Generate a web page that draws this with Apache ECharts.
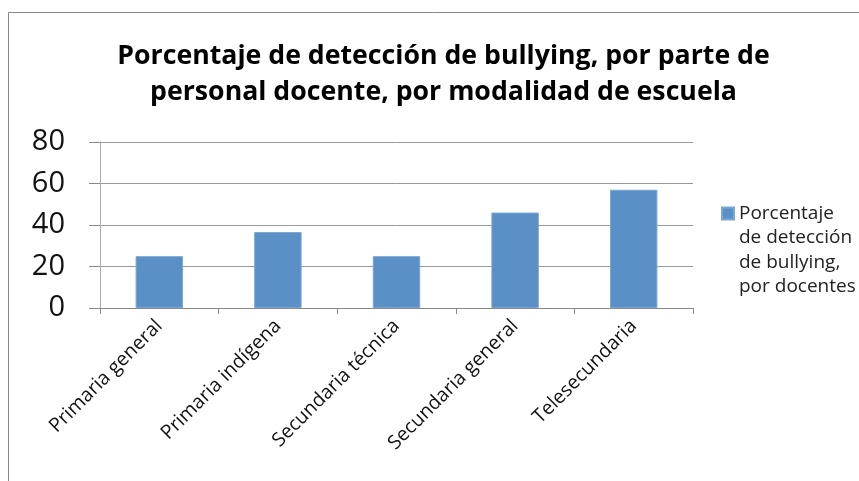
<!DOCTYPE html>
<html style="height: 100%">
<head>
<meta charset="utf-8" />
<title>Detección de bullying</title>
<script type="text/javascript" src="https://cdn.jsdelivr.net/npm/echarts@6/dist/echarts.min.js"></script>
</head>
<body style="height: 100%; margin: 0; background: #fff;">
<div id="container" style="width: 859px; height: 481px;"></div>
<script type="text/javascript">
var categories = ['Primaria general', 'Primaria indígena', 'Secundaria técnica', 'Secundaria general', 'Telesecundaria'];
var values = [25, 36.6, 25, 46, 57];
var seriesName = 'Porcentaje\nde detección\nde bullying,\npor docentes';
var titleText = 'Porcentaje de detección de bullying, por parte de\npersonal docente, por modalidad de escuela';

var myChart = echarts.init(document.getElementById('container'));
var option = {
    backgroundColor: '#fff',
    animation: false,
    title: {
        text: titleText,
        left: 438.5,
        textAlign: 'center',
        top: 33,
        textStyle: {
            fontFamily: 'Open Sans',
            fontWeight: 'bold',
            fontSize: 26.7,
            lineHeight: 36,
            color: '#000'
        }
    },
    legend: {
        data: [seriesName],
        orient: 'vertical',
        left: 716,
        top: 196,
        itemWidth: 12,
        itemHeight: 96,
        itemGap: 4,
        // square at the top of a tall icon box, so it sits beside the first text line
        icon: 'path://M0,0.45L1,0.45L1,1.45L0,1.45Z M0,0 M0,8',
        symbolKeepAspect: true,
        textStyle: {
            fontFamily: 'Open Sans',
            fontSize: 19,
            lineHeight: 24.5,
            color: '#222'
        }
    },
    graphic: [{
        // frame of the chart area (top and left edges only are visible)
        type: 'polyline',
        shape: { points: [[8.5, 481], [8.5, 12.5], [859, 12.5]] },
        style: { fill: 'none', stroke: '#888', lineWidth: 1 },
        silent: true
    }],
    grid: {
        left: 100,
        right: 166,
        top: 142,
        bottom: 173
    },
    xAxis: {
        type: 'category',
        data: categories,
        axisLine: { lineStyle: { color: '#888' } },
        axisTick: { show: true, length: 6, lineStyle: { color: '#888' } },
        axisLabel: {
            rotate: 45,
            interval: 0,
            margin: 15,
            fontFamily: 'Open Sans',
            fontSize: 19.5,
            color: '#111'
        }
    },
    yAxis: {
        type: 'value',
        min: 0,
        max: 80,
        interval: 20,
        axisLine: { show: true, lineStyle: { color: '#aaa' } },
        axisTick: { show: true, length: 11, lineStyle: { color: '#888' } },
        axisLabel: {
            margin: 35,
            fontFamily: 'Open Sans',
            fontSize: 29,
            color: '#111'
        },
        splitLine: { lineStyle: { color: '#999' } }
    },
    series: [{
        name: seriesName,
        type: 'bar',
        data: values,
        barWidth: '40%',
        itemStyle: {
            color: '#5B90C6',
            borderColor: '#7aa6d4',
            borderWidth: 1
        }
    }]
};
myChart.setOption(option);
</script>
</body>
</html>
